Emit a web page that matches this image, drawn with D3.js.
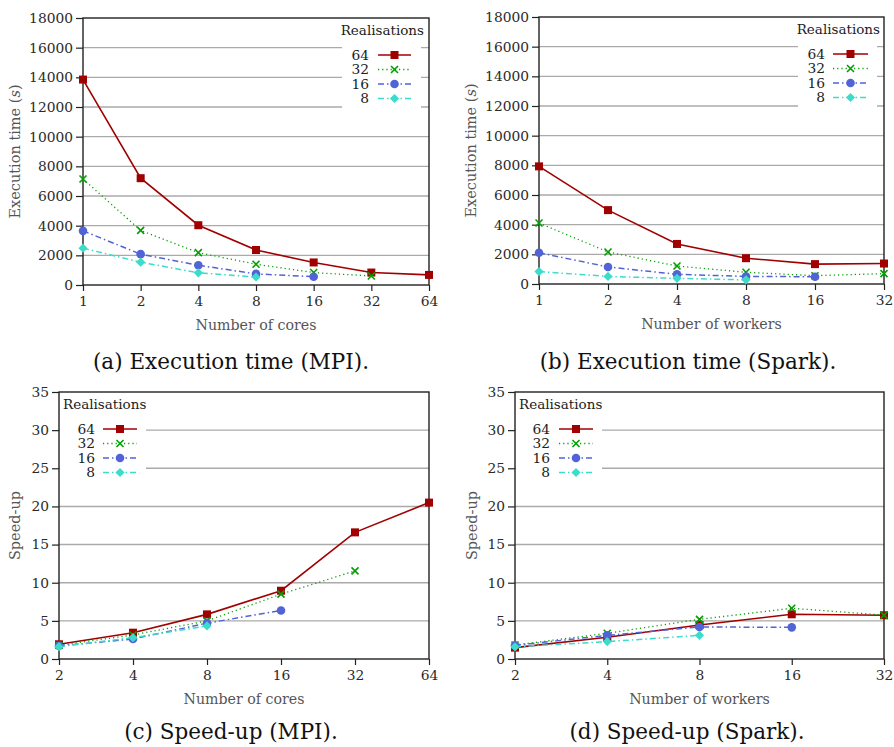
<!DOCTYPE html>
<html>
<head>
<meta charset="utf-8">
<script src="https://cdn.jsdelivr.net/npm/d3@7"></script>
<style>
  body { margin: 0; background: #fff; }
  svg text { font-family: "DejaVu Serif", serif; }
</style>
</head>
<body>
<svg id="chart" width="894" height="747"></svg>
<script>
// Realisation counts (legend entries)
var realisations = ["64", "32", "16", "8"];

// (a) Execution time, MPI
var mpiCores = [1, 2, 4, 8, 16, 32, 64];
var mpiTime64 = [13850, 7200, 4030, 2360, 1520, 840, 680];
var mpiTime32 = [7150, 3680, 2180, 1400, 840, 610];
var mpiTime16 = [3650, 2080, 1330, 750, 560];
var mpiTime8  = [2480, 1540, 820, 540];

// (b) Execution time, Spark
var sparkWorkers = [1, 2, 4, 8, 16, 32];
var sparkTime64 = [7930, 4980, 2700, 1740, 1340, 1380];
var sparkTime32 = [4110, 2160, 1210, 790, 560, 700];
var sparkTime16 = [2110, 1150, 650, 510, 490];
var sparkTime8  = [840, 510, 380, 280];

// (c) Speed-up, MPI
var mpiSpeedCores = [2, 4, 8, 16, 32, 64];
var mpiSpeed64 = [1.93, 3.45, 5.85, 8.95, 16.6, 20.5];
var mpiSpeed32 = [1.8, 3.15, 5.0, 8.5, 11.55];
var mpiSpeed16 = [1.72, 2.62, 4.7, 6.35];
var mpiSpeed8  = [1.62, 2.8, 4.33];

// (d) Speed-up, Spark
var sparkSpeedWorkers = [2, 4, 8, 16, 32];
var sparkSpeed64 = [1.49, 2.86, 4.46, 5.86, 5.73];
var sparkSpeed32 = [1.84, 3.37, 5.2, 6.65, 5.75];
var sparkSpeed16 = [1.78, 3.1, 4.2, 4.15];
var sparkSpeed8  = [1.6, 2.28, 3.1];

// Axis ticks
var timeTicks = [0, 2000, 4000, 6000, 8000, 10000, 12000, 14000, 16000, 18000];
var speedTicks = [0, 5, 10, 15, 20, 25, 30, 35];

// Series styles (gnuplot look)
var styles = {
  "64": {color: "#a00000", dash: null, width: 1.6, marker: "square"},
  "32": {color: "#00a000", dash: "1.2,3", width: 1.3, marker: "cross"},
  "16": {color: "#5263d6", dash: "6,3,1.5,3", width: 1.5, marker: "circle"},
  "8":  {color: "#3cdcca", dash: "6,3,1.5,3", width: 1.5, marker: "diamond"}
};

var svg = d3.select("#chart");

function drawMarker(g, type, x, y, color) {
  if (type === "square") {
    g.append("rect").attr("x", x - 4).attr("y", y - 4)
      .attr("width", 8).attr("height", 8).attr("fill", color);
  } else if (type === "circle") {
    g.append("circle").attr("cx", x).attr("cy", y).attr("r", 4.3).attr("fill", color);
  } else if (type === "diamond") {
    g.append("path").attr("d", "M" + x + "," + (y - 4.6) + "L" + (x + 4.6) + "," + y +
      "L" + x + "," + (y + 4.6) + "L" + (x - 4.6) + "," + y + "Z").attr("fill", color);
  } else if (type === "cross") {
    g.append("path").attr("d", "M" + (x - 3.5) + "," + (y - 3.5) + "L" + (x + 3.5) + "," + (y + 3.5) +
      "M" + (x - 3.5) + "," + (y + 3.5) + "L" + (x + 3.5) + "," + (y - 3.5))
      .attr("stroke", color).attr("stroke-width", 1.6).attr("fill", "none");
  }
}

function drawPanel(cfg) {
  var g = svg.append("g");
  var x = d3.scaleLog().base(2).domain(cfg.xDomain).range([cfg.left, cfg.right]);
  var y = d3.scaleLinear().domain(cfg.yDomain).range([cfg.bottom, cfg.top]);

  // gridlines
  g.append("g").selectAll("line").data(cfg.yTicks.slice(1, -1)).enter().append("line")
    .attr("x1", cfg.left).attr("x2", cfg.right)
    .attr("y1", function(d) { return y(d); }).attr("y2", function(d) { return y(d); })
    .attr("stroke", "#aaa").attr("stroke-width", 1.4);

  // legend background (hides gridlines)
  g.append("rect").attr("x", cfg.legend.boxX).attr("y", cfg.top + 1)
    .attr("width", cfg.legend.boxW).attr("height", cfg.legend.boxH).attr("fill", "#fff");

  // axes
  var yAxis = d3.axisLeft(y).tickValues(cfg.yTicks).tickSize(7).tickPadding(3)
    .tickFormat(d3.format("d"));
  var xAxis = d3.axisBottom(x).tickValues(cfg.xTicks).tickSize(6).tickPadding(5)
    .tickFormat(d3.format("d"));
  var ya = g.append("g").attr("transform", "translate(" + cfg.left + ",0)").call(yAxis);
  var xa = g.append("g").attr("transform", "translate(0," + cfg.bottom + ")").call(xAxis);
  [ya, xa].forEach(function(a) {
    a.select(".domain").remove();
    a.selectAll("line").attr("stroke", "#222").attr("stroke-width", 1.2);
    a.selectAll("text").attr("font-family", "DejaVu Serif").attr("font-size", 13.8)
      .attr("fill", "#2a2a2a");
  });

  // frame
  g.append("rect").attr("x", cfg.left).attr("y", cfg.top)
    .attr("width", cfg.right - cfg.left).attr("height", cfg.bottom - cfg.top)
    .attr("fill", "none").attr("stroke", "#222").attr("stroke-width", 1.4);

  // series
  var line = d3.line()
    .x(function(d) { return x(d[0]); })
    .y(function(d) { return y(d[1]); });
  cfg.series.forEach(function(s, i) {
    var st = styles[realisations[i]];
    var pts = s.map(function(v, j) { return [cfg.xValues[j], v]; });
    g.append("path").attr("d", line(pts)).attr("fill", "none")
      .attr("stroke", st.color).attr("stroke-width", st.width)
      .attr("stroke-dasharray", st.dash);
  });
  cfg.series.forEach(function(s, i) {
    var st = styles[realisations[i]];
    s.forEach(function(v, j) { drawMarker(g, st.marker, x(cfg.xValues[j]), y(v), st.color); });
  });

  // legend
  var L = cfg.legend;
  g.append("text").attr("x", L.titleX).attr("y", cfg.top + 17)
    .attr("text-anchor", L.titleAnchor).attr("font-size", 13.5).attr("fill", "#222")
    .text("Realisations");
  realisations.forEach(function(r, i) {
    var st = styles[r];
    var ly = cfg.top + 37 + i * 14.5;
    g.append("text").attr("x", L.numX).attr("y", ly + 4.5).attr("text-anchor", "end")
      .attr("font-size", 13.8).attr("fill", "#222").text(r);
    g.append("line").attr("x1", L.lineX1).attr("x2", L.lineX2).attr("y1", ly).attr("y2", ly)
      .attr("stroke", st.color).attr("stroke-width", st.width).attr("stroke-dasharray", st.dash);
    drawMarker(g, st.marker, (L.lineX1 + L.lineX2) / 2, ly, st.color);
  });

  // axis titles
  var ytitle = g.append("text")
    .attr("transform", "translate(" + cfg.yTitleX + "," + ((cfg.top + cfg.bottom) / 2) + ") rotate(-90)")
    .attr("text-anchor", "middle").attr("font-size", 14.5).attr("fill", "#555");
  if (cfg.yTitle === "time") {
    ytitle.append("tspan").text("Execution time (");
    ytitle.append("tspan").attr("font-style", "italic").text("s");
    ytitle.append("tspan").text(")");
  } else {
    ytitle.text("Speed-up");
  }
  g.append("text").attr("x", (cfg.left + cfg.right) / 2).attr("y", cfg.bottom + 45)
    .attr("text-anchor", "middle").attr("font-size", 14.2).attr("fill", "#555").text(cfg.xTitle);

  // caption
  g.append("text").attr("x", cfg.capX).attr("y", cfg.capY).attr("text-anchor", "middle")
    .attr("font-size", 21.5).attr("fill", "#111").text(cfg.caption);
}

drawPanel({
  left: 83, right: 429, top: 18, bottom: 285,
  xDomain: [1, 64], yDomain: [0, 18000], xTicks: mpiCores, yTicks: timeTicks,
  xValues: mpiCores, series: [mpiTime64, mpiTime32, mpiTime16, mpiTime8],
  legend: {boxX: 342, boxW: 79, boxH: 94, titleX: 424, titleAnchor: "end", numX: 369, lineX1: 378, lineX2: 411},
  yTitle: "time", yTitleX: 20, xTitle: "Number of cores",
  caption: "(a) Execution time (MPI).", capX: 231, capY: 369
});

drawPanel({
  left: 539, right: 884, top: 17, bottom: 284,
  xDomain: [1, 32], yDomain: [0, 18000], xTicks: sparkWorkers, yTicks: timeTicks,
  xValues: sparkWorkers, series: [sparkTime64, sparkTime32, sparkTime16, sparkTime8],
  legend: {boxX: 798, boxW: 79, boxH: 94, titleX: 880, titleAnchor: "end", numX: 825, lineX1: 833, lineX2: 868},
  yTitle: "time", yTitleX: 476, xTitle: "Number of workers",
  caption: "(b) Execution time (Spark).", capX: 688, capY: 369
});

drawPanel({
  left: 59, right: 429, top: 392, bottom: 659,
  xDomain: [2, 64], yDomain: [0, 35], xTicks: mpiSpeedCores, yTicks: speedTicks,
  xValues: mpiSpeedCores, series: [mpiSpeed64, mpiSpeed32, mpiSpeed16, mpiSpeed8],
  legend: {boxX: 60, boxW: 86, boxH: 88, titleX: 63, titleAnchor: "start", numX: 95, lineX1: 103, lineX2: 137},
  yTitle: "speed", yTitleX: 20, xTitle: "Number of cores",
  caption: "(c) Speed-up (MPI).", capX: 231, capY: 739
});

drawPanel({
  left: 515, right: 884, top: 392, bottom: 659,
  xDomain: [2, 32], yDomain: [0, 35], xTicks: sparkSpeedWorkers, yTicks: speedTicks,
  xValues: sparkSpeedWorkers, series: [sparkSpeed64, sparkSpeed32, sparkSpeed16, sparkSpeed8],
  legend: {boxX: 516, boxW: 86, boxH: 88, titleX: 519, titleAnchor: "start", numX: 550, lineX1: 559, lineX2: 593},
  yTitle: "speed", yTitleX: 477, xTitle: "Number of workers",
  caption: "(d) Speed-up (Spark).", capX: 687, capY: 739
});
</script>
</body>
</html>
